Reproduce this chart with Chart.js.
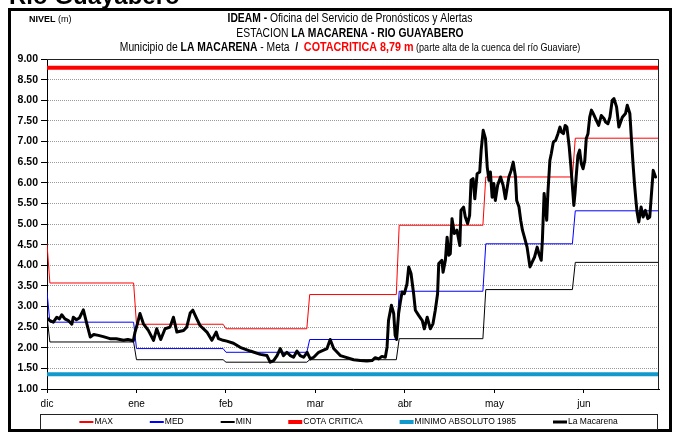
<!DOCTYPE html>
<html>
<head>
<meta charset="utf-8">
<title>Río Guayabero - Estación La Macarena</title>
<script src="https://cdn.jsdelivr.net/npm/chart.js@4.4.1/dist/chart.umd.min.js"></script>
<style>
  html, body { margin: 0; padding: 0; background: #fff; }
  #wrap { width: 679px; height: 432px; }
</style>
</head>
<body>
<div id="wrap"><canvas id="nivel" width="679" height="432"></canvas></div>
<script>
// meses del eje x (una marca cada 31 días desde el 1 de diciembre)
const monthLabels = ['dic', 'ene', 'feb', 'mar', 'abr', 'may', 'jun'];
const tickDays = [0, 31, 62, 93, 124, 155, 186];
// días de cada mes (dic a jun)
const monthDays = [31, 31, 29, 31, 30, 31, 30];

// niveles históricos por mes (m)
const maxLevels = [3.57, 2.57, 2.46, 3.29, 4.97, 6.14, 7.08];
const medLevels = [2.62, 1.98, 1.89, 2.20, 3.37, 4.52, 5.32];
const minLevels = [2.14, 1.71, 1.65, 1.71, 2.22, 3.41, 4.07];
// valor del primer día de la serie
const maxFirst = 4.52;
const medFirst = 3.35;
const minFirst = 2.75;

const cotaCritica = 8.79;
const minimoAbsoluto = 1.36;

// nivel observado La Macarena: día desde el 1 de dic y nivel (m)
const lmDay = [
  0, 1, 2.2, 3.4, 4.3, 5.1, 6.2, 7.4, 8.6, 9.1, 10.2, 11.2, 12.6, 13.8, 15, 16.2, 17.8, 19.5, 21.8, 24,
  26.5, 28, 29.9, 30.5, 31.3, 32.2, 33.4, 35.1, 36.9, 38, 39.4, 40.9, 42.6, 43.8, 45, 47.3, 48.4, 49.6, 50.5, 51.9,
  53, 55.4, 57.1, 58.6, 59.4, 61, 62.3, 64.6, 66.9, 70.4, 73.9, 76.2, 77.3, 78.5, 79.7, 80.8, 81.4, 81.9, 83.1, 84.3,
  85.4, 86.6, 87.7, 88.9, 90.1, 91.2, 92.4, 94.1, 95.8, 97, 98.1, 99.3, 101.6, 103.9, 106.2, 108.5, 110.8, 112.6, 113.7, 114.9,
  116, 117.2, 117.8, 118.3, 119.3, 120.1, 120.6, 121.1, 121.8, 122.4, 123, 123.8, 124.7, 125.3, 126.1, 127, 127.6, 128.8, 130, 130.7,
  131.7, 132.8, 133.7, 134.5, 135.3, 135.7, 136.8, 137.2, 138, 138.6, 139.2, 139.7, 140.3, 141.1, 142, 143, 143.4, 144.3, 144.9, 145.7,
  146.4, 146.9, 147.6, 148.2, 149, 149.9, 150.4, 151.1, 151.9, 152.5, 153.1, 153.6, 154.2, 154.8, 155.3, 156.1, 157.1, 158, 158.8, 160,
  160.8, 161.5, 162.3, 162.7, 163.5, 164.1, 164.7, 165.3, 166.3, 167.3, 168.1, 168.9, 169.8, 170.4, 171.2, 171.6, 172.2, 172.7, 173.1, 173.5,
  174.2, 174.7, 175.4, 176.2, 177, 177.7, 178.2, 178.9, 179.5, 180.1, 180.9, 181.5, 182.1, 182.5, 182.9, 183.3, 183.9, 184.5, 185.1, 185.7,
  186.3, 186.8, 187.4, 188, 188.6, 189.2, 190.3, 191.1, 192, 193, 193.5, 194.3, 195, 195.8, 196.4, 197.3, 198.1, 199.3, 200.4, 201,
  201.9, 202.4, 203, 203.5, 204, 204.4, 205, 205.8, 206.5, 207.3, 208.1, 208.8, 209.4, 210, 210.8
];
const lmLevel = [
  2.72, 2.66, 2.62, 2.74, 2.70, 2.80, 2.70, 2.66, 2.57, 2.74, 2.68, 2.72, 2.92, 2.58, 2.26, 2.32, 2.30, 2.27, 2.22, 2.22,
  2.18, 2.20, 2.17, 2.38, 2.58, 2.83, 2.58, 2.42, 2.18, 2.46, 2.20, 2.46, 2.50, 2.74, 2.38, 2.42, 2.50, 2.84, 2.91, 2.70,
  2.54, 2.38, 2.18, 2.38, 2.22, 2.18, 2.16, 2.11, 2.01, 1.92, 1.84, 1.81, 1.65, 1.69, 1.81, 1.98, 1.89, 1.81, 1.89, 1.81,
  1.77, 1.92, 1.81, 1.77, 1.89, 1.73, 1.77, 1.89, 1.94, 1.98, 2.20, 1.98, 1.81, 1.76, 1.71, 1.69, 1.68, 1.69, 1.76, 1.73,
  1.79, 1.77, 2.02, 2.66, 3.03, 2.83, 2.30, 2.20, 2.83, 3.11, 3.35, 3.31, 3.55, 3.96, 3.80, 3.31, 2.91, 2.78, 2.66, 2.46,
  2.74, 2.46, 2.58, 2.91, 3.31, 4.04, 4.12, 3.83, 4.12, 4.68, 4.24, 4.28, 5.13, 4.77, 4.85, 4.48, 5.33, 5.41, 5.17, 5.01,
  5.21, 6.06, 6.10, 5.61, 6.22, 6.26, 6.79, 7.27, 7.07, 6.38, 6.06, 6.26, 5.65, 5.98, 5.57, 5.94, 6.14, 5.94, 5.61, 6.14,
  6.30, 6.50, 6.14, 5.57, 5.41, 5.09, 4.85, 4.70, 4.44, 3.96, 4.08, 4.20, 4.44, 4.28, 4.12, 4.60, 5.74, 5.41, 5.09, 5.74,
  6.54, 6.71, 6.99, 7.03, 7.19, 7.35, 7.23, 7.19, 7.39, 7.35, 6.87, 6.38, 5.82, 5.45, 5.74, 6.14, 6.66, 6.79, 6.46, 6.34,
  6.54, 7.07, 7.19, 7.59, 7.76, 7.68, 7.51, 7.39, 7.63, 7.55, 7.47, 7.43, 7.59, 8.00, 8.04, 7.84, 7.35, 7.59, 7.68, 7.88,
  7.68, 7.11, 6.46, 5.98, 5.57, 5.29, 5.05, 5.41, 5.17, 5.33, 5.13, 5.17, 5.74, 6.30, 6.14
];

const FONT = "'Liberation Sans', Arial, sans-serif";
const lastDay = monthDays.reduce((s, d) => s + d, 0) - 1;

// escalón mensual: el primer día tiene su propio valor, luego cada mes es plano
function stepSeries(first, levels) {
  let pts = [{x: 0, y: first}];
  let start = 0;
  levels.forEach((v, i) => {
    pts.push({x: i === 0 ? 1 : start, y: v});
    pts.push({x: start + monthDays[i] - 1, y: v});
    start += monthDays[i];
  });
  return pts;
}

function flat(v) {
  return [{x: 0, y: v}, {x: lastDay, y: v}];
}

// texto en tramos con distinta fuente, comprimido a lo ancho
function drawRuns(ctx, runs, x0, baseline, align, sx) {
  const widths = runs.map(r => { ctx.font = r.font; return ctx.measureText(r.text).width; });
  const total = widths.reduce((s, w) => s + w, 0) * sx;
  ctx.save();
  ctx.translate(align === 'center' ? x0 - total / 2 : x0, baseline);
  ctx.scale(sx, 1);
  ctx.textAlign = 'left';
  ctx.textBaseline = 'alphabetic';
  let x = 0;
  runs.forEach((r, i) => {
    ctx.font = r.font;
    ctx.fillStyle = r.color || '#000';
    ctx.fillText(r.text, x, 0);
    x += widths[i];
  });
  ctx.restore();
}

const sheetPlugin = {
  id: 'sheet',
  beforeDraw(chart) {
    const ctx = chart.ctx;
    ctx.save();
    ctx.fillStyle = '#fff';
    ctx.fillRect(0, 0, chart.width, chart.height);
    ctx.restore();
  },
  afterDraw(chart) {
    const ctx = chart.ctx;
    const a = chart.chartArea;
    ctx.save();

    // borde superior y derecho del área de trazado
    ctx.strokeStyle = '#222';
    ctx.lineWidth = 1;
    ctx.beginPath();
    ctx.moveTo(a.left, a.top + 0.5);
    ctx.lineTo(a.right - 0.5, a.top + 0.5);
    ctx.lineTo(a.right - 0.5, a.bottom);
    ctx.stroke();

    // titulo de la hoja, cortado por arriba
    ctx.fillStyle = '#000';
    ctx.font = 'bold 24px ' + FONT;
    ctx.textAlign = 'left';
    ctx.textBaseline = 'alphabetic';
    ctx.fillText('Rio Guayabero', 9, 4);

    // marco
    ctx.strokeStyle = '#000';
    ctx.lineWidth = 3;
    ctx.strokeRect(9.5, 9.5, 661, 421);

    drawRuns(ctx, [
      {text: 'NIVEL', font: 'bold 9px ' + FONT},
      {text: ' (m)', font: '9px ' + FONT}
    ], 29, 22, 'left', 1);

    drawRuns(ctx, [
      {text: 'IDEAM - ', font: 'bold 12px ' + FONT},
      {text: 'Oficina del Servicio de Pronósticos y Alertas', font: '12px ' + FONT}
    ], 350, 22, 'center', 0.86);

    drawRuns(ctx, [
      {text: 'ESTACION ', font: '12px ' + FONT},
      {text: 'LA MACARENA - RIO GUAYABERO', font: 'bold 12px ' + FONT}
    ], 350, 37, 'center', 0.86);

    drawRuns(ctx, [
      {text: 'Municipio de ', font: '12px ' + FONT},
      {text: 'LA MACARENA', font: 'bold 12px ' + FONT},
      {text: ' - Meta  ', font: '12px ' + FONT},
      {text: '/  ', font: 'bold 12px ' + FONT},
      {text: 'COTACRITICA 8,79 m', font: 'bold 12.5px ' + FONT, color: '#ff0000'},
      {text: ' (parte alta de la cuenca del río Guaviare)', font: '10.5px ' + FONT}
    ], 350, 51, 'center', 0.86);

    // leyenda
    const box = {left: 40, right: 657, top: 414, bottom: 429};
    ctx.strokeStyle = '#222';
    ctx.lineWidth = 1;
    ctx.strokeRect(box.left + 0.5, box.top + 0.5, box.right - box.left, box.bottom - box.top);
    ctx.font = '8.5px ' + FONT;
    const sample = 14, gap = 37;
    const items = chart.data.datasets.map(ds => ({
      label: ds.label, color: ds.borderColor, width: Math.max(ds.borderWidth, 2),
      w: sample + 1 + ctx.measureText(ds.label).width
    }));
    const total = items.reduce((s, it) => s + it.w, 0) + gap * (items.length - 1);
    let x = (box.left + box.right) / 2 - total / 2;
    const cy = (box.top + box.bottom) / 2 + 0.5;
    items.forEach(it => {
      ctx.strokeStyle = it.color;
      ctx.lineWidth = it.width;
      ctx.beginPath();
      ctx.moveTo(x, cy);
      ctx.lineTo(x + sample, cy);
      ctx.stroke();
      ctx.fillStyle = '#000';
      ctx.textAlign = 'left';
      ctx.textBaseline = 'middle';
      ctx.fillText(it.label, x + sample + 1, cy);
      x += it.w + gap;
    });
    ctx.restore();
  }
};

const chart = new Chart(document.getElementById('nivel'), {
  type: 'line',
  data: {
    datasets: [
      {label: 'MAX', data: stepSeries(maxFirst, maxLevels), borderColor: '#ff0000', borderWidth: 1},
      {label: 'MED', data: stepSeries(medFirst, medLevels), borderColor: '#0000ff', borderWidth: 1},
      {label: 'MIN', data: stepSeries(minFirst, minLevels), borderColor: '#000000', borderWidth: 1},
      {label: 'COTA CRITICA', data: flat(cotaCritica), borderColor: '#ff0000', borderWidth: 4},
      {label: 'MINIMO ABSOLUTO 1985', data: flat(minimoAbsoluto), borderColor: '#1199cc', borderWidth: 4},
      {label: 'La Macarena', data: lmDay.map((d, i) => ({x: d, y: lmLevel[i]})),
       borderColor: '#000000', borderWidth: 3, order: -1}
    ]
  },
  options: {
    responsive: false,
    animation: false,
    devicePixelRatio: 1,
    layout: {padding: {left: 0, top: 59, right: 20, bottom: 0}},
    elements: {
      point: {radius: 0},
      line: {tension: 0, fill: false, borderJoinStyle: 'round', borderCapStyle: 'round'}
    },
    plugins: {legend: {display: false}, tooltip: {enabled: false}},
    scales: {
      x: {
        type: 'linear',
        min: 0,
        max: lastDay,
        afterBuildTicks: s => { s.ticks = tickDays.map(v => ({value: v})); },
        afterFit: s => { s.height = 43; },
        ticks: {
          callback: (v, i) => monthLabels[i],
          color: '#000',
          font: {family: FONT, size: 10},
          padding: 5,
          maxRotation: 0,
          autoSkip: false
        },
        grid: {drawOnChartArea: false, tickLength: 4, tickColor: '#000'},
        border: {color: '#000', width: 1}
      },
      y: {
        min: 1,
        max: 9,
        afterFit: s => { s.width = 47; },
        ticks: {
          stepSize: 0.5,
          callback: v => v.toFixed(2),
          color: '#000',
          font: {family: FONT, size: 10.5, weight: 'bold'},
          padding: 3
        },
        grid: {color: '#9a9a9a', tickColor: '#000', tickLength: 6, tickBorderDash: []},
        border: {color: '#000', width: 1, dash: [1, 1]}
      }
    }
  },
  plugins: [sheetPlugin]
});
</script>
</body>
</html>
